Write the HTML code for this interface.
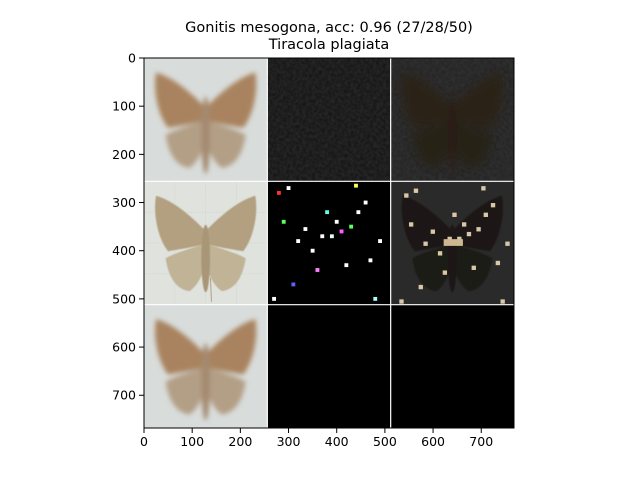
<!DOCTYPE html>
<html><head><meta charset="utf-8">
<style>
html,body{margin:0;padding:0;background:#fff;}
svg{display:block;font-family:"DejaVu Sans","Liberation Sans",sans-serif;}
</style></head>
<body>
<svg id="chart" width="640" height="480" viewBox="0 0 640 480" xmlns="http://www.w3.org/2000/svg">
<defs>
  <filter id="blur6" x="-20%" y="-20%" width="140%" height="140%"><feGaussianBlur stdDeviation="5"/></filter>
  <filter id="blur2"><feGaussianBlur stdDeviation="1.2"/></filter>
  <filter id="blur8"><feGaussianBlur stdDeviation="9"/></filter>
  <filter id="noise" x="0" y="0" width="1" height="1"><feTurbulence type="fractalNoise" baseFrequency="0.15" numOctaves="3" seed="3"/><feColorMatrix type="matrix" values="0 0 0 0 0.3  0 0 0 0 0.3  0 0 0 0 0.32  0 0 0 0.6 -0.1"/></filter>
  <clipPath id="axclip"><rect x="144" y="58" width="370" height="370"/></clipPath>
</defs>
<text x="329" y="32" font-size="14.5" text-anchor="middle">Gonitis mesogona, acc: 0.96 (27/28/50)</text>
<text x="329" y="49" font-size="14.5" text-anchor="middle">Tiracola plagiata</text>
<g id="tiles" clip-path="url(#axclip)"></g>
<g id="axes"></g>
</svg>
<script>
const xTicks = [0,100,200,300,400,500,600,700];
const yTicks = [0,100,200,300,400,500,600,700];
const extent = [0,768];
const tileSize = 256;
const AX = {x0:144, y0:58, w:370, h:370};
function sx(v){return AX.x0 + (v-extent[0])/(extent[1]-extent[0])*AX.w;}
function sy(v){return AX.y0 + (v-extent[0])/(extent[1]-extent[0])*AX.h;}
const NS="http://www.w3.org/2000/svg";
function mk(tag,attrs,parent){const e=document.createElementNS(NS,tag);for(const k in attrs)e.setAttribute(k,attrs[k]);parent.appendChild(e);return e;}
const tiles=document.getElementById('tiles');
const scale=AX.w/(extent[1]-extent[0]);
function tileGroup(col,row,name){
  const g=mk('g',{transform:`translate(${sx(col*tileSize)},${sy(row*tileSize)}) scale(${scale})`},tiles);
  
  
  return g;
}
const fore="M125,100 C95,70 60,40 25,30 C18,70 30,120 50,145 C80,140 110,135 125,130 Z M131,100 C161,70 196,40 231,30 C238,70 226,120 206,145 C176,140 146,135 131,130 Z";
const hind="M125,130 C95,140 60,150 45,160 C50,195 65,225 95,228 C112,215 122,195 125,175 Z M131,130 C161,140 196,150 211,160 C206,195 191,225 161,228 C144,215 134,195 131,175 Z";
function moth(g,fillF,fillH,body,filter,tail){
  const m=mk('g',filter?{filter:`url(#${filter})`}:{},g);
  mk('path',{d:fore,fill:fillF},m);
  mk('path',{d:hind,fill:fillH},m);
  mk('ellipse',{cx:128,cy:160,rx:9,ry:tail||75,fill:body},m);
}
[0,2].forEach(r=>{
  const g=tileGroup(0,r,'mean-image-'+r);
  mk('rect',{x:0,y:0,width:256,height:256,fill:'#d8dcda'},g);
  moth(g,'#a9835f','#b39f86','#a48a70','blur6',80);
});
{
  const g=tileGroup(0,1,'input-image');
  mk('rect',{x:0,y:0,width:256,height:256,fill:'#dfe2dd'},g);
  for(let i=1;i<4;i++){mk('line',{x1:i*64,y1:0,x2:i*64,y2:256,stroke:'#c8ccc6','stroke-dasharray':'3 3'},g);mk('line',{x1:0,y1:i*64,x2:256,y2:i*64,stroke:'#c8ccc6','stroke-dasharray':'3 3'},g);}
  moth(g,'#b3a081','#c0b396','#a89676','blur2',70);
  mk('line',{x1:138,y1:200,x2:140,y2:250,stroke:'#b0a080','stroke-width':2},g);
}
{
  const g=tileGroup(1,0,'saliency-top-middle');
  mk('rect',{x:0,y:0,width:256,height:256,fill:'#161616'},g);
  mk('rect',{x:0,y:0,width:256,height:256,filter:'url(#noise)',opacity:0.35},g);
}
{
  const g=tileGroup(2,0,'saliency-top-right');
  mk('rect',{x:0,y:0,width:256,height:256,fill:'#252525'},g);
  mk('rect',{x:0,y:0,width:256,height:256,filter:'url(#noise)',opacity:0.25},g);
  moth(g,'#2c2019','#262019','#2a1f18','blur8',80);
}
const specks=[[20,20,'#ff3030'],[40,10,'#ffffff'],[180,5,'#ffff60'],[200,40,'#ffffff'],[120,60,'#60ffe0'],[140,80,'#ffffff'],[110,110,'#ffffff'],[130,110,'#e0ffff'],[150,100,'#ff60ff'],[170,90,'#60ff60'],[60,120,'#ffffff'],[30,80,'#60ff60'],[90,140,'#ffffff'],[160,170,'#ffffff'],[210,160,'#ffffff'],[50,210,'#6060ff'],[220,240,'#a0ffff'],[100,180,'#ff80ff'],[75,95,'#ffffff'],[185,60,'#ffffff'],[230,120,'#ffffff'],[10,240,'#ffffff']];
{
  const g=tileGroup(1,1,'saliency-middle');
  mk('rect',{x:0,y:0,width:256,height:256,fill:'#000'},g);
  specks.forEach(s=>mk('rect',{x:s[0],y:s[1],width:8,height:8,fill:s[2]},g));
}
{
  const g=tileGroup(2,1,'masked-input');
  mk('rect',{x:0,y:0,width:256,height:256,fill:'#2a2a2a'},g);
  moth(g,'#1d1812','#1f1a14','#1d1812','blur2',70);
  specks.forEach(s=>mk('rect',{x:s[0]+8,y:s[1]+5,width:9,height:9,fill:'#d8c8a8'},g));
  mk('rect',{x:110,y:120,width:40,height:14,fill:'#cdb890'},g);
}
[1,2].forEach(c=>{const g=tileGroup(c,2,'blank-tile-'+c);mk('rect',{x:0,y:0,width:256,height:256,fill:'#000'},g);});
[1,2].forEach(i=>{
  const l1=mk('line',{x1:sx(i*tileSize),y1:AX.y0,x2:sx(i*tileSize),y2:AX.y0+AX.h,stroke:'#fff','stroke-width':1.2},tiles);
  
  
  const l2=mk('line',{x1:AX.x0,y1:sy(i*tileSize),x2:AX.x0+AX.w,y2:sy(i*tileSize),stroke:'#fff','stroke-width':1.2},tiles);
  
  
});
const axes=document.getElementById('axes');
const frame=mk('rect',{x:AX.x0,y:AX.y0,width:AX.w,height:AX.h,fill:'none',stroke:'#000','stroke-width':1},axes);


xTicks.forEach(t=>{
  const x=sx(t);
  mk('line',{x1:x,y1:AX.y0+AX.h,x2:x,y2:AX.y0+AX.h+5,stroke:'#000'},axes);
  const tx=mk('text',{x:x,y:AX.y0+AX.h+18,'font-size':12.5,'text-anchor':'middle'},axes);
  tx.textContent=t;
  
  
});
yTicks.forEach(t=>{
  const y=sy(t);
  mk('line',{x1:AX.x0-5,y1:y,x2:AX.x0,y2:y,stroke:'#000'},axes);
  const tx=mk('text',{x:AX.x0-8,y:y+4.5,'font-size':12.5,'text-anchor':'end'},axes);
  tx.textContent=t;
  
  
});
</script>
</body></html>
